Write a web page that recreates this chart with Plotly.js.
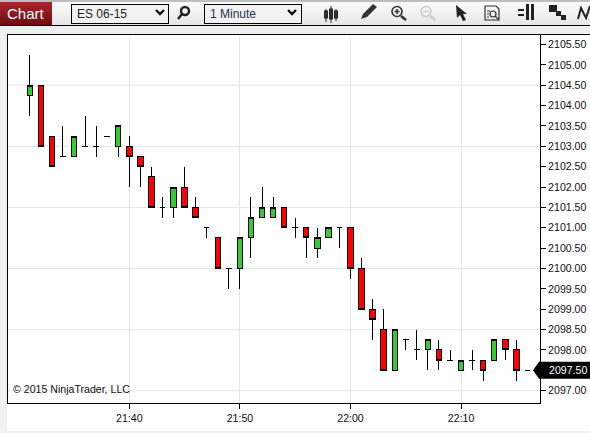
<!DOCTYPE html>
<html><head><meta charset="utf-8">
<script src="https://cdn.plot.ly/plotly-3.0.1.min.js"></script>
<style>
html,body{margin:0;padding:0;background:#f0f0f0;width:590px;height:433px;overflow:hidden;font-family:"Liberation Sans",Arial,sans-serif}
#top{position:absolute;left:0;top:0;width:590px;height:2px;background:#bdbdbd}
#bar{position:absolute;left:0;top:2px;width:590px;height:23px;background:linear-gradient(#fbfbfb,#e6e6e6);border-bottom:1px solid #000}
#tab{position:absolute;left:0;top:2px;width:52px;height:23px;background:linear-gradient(#a8262b,#6e0d12);color:#fff;font-size:15px;line-height:24px;padding-left:7px;box-sizing:border-box}
.sel{position:absolute;top:4px;height:20px;width:98px;box-sizing:border-box;border:1px solid #000;background:#f2f2f2;font-size:12px;line-height:19px;padding-left:5px;color:#222}
#panel{position:absolute;left:7px;top:34px;width:583px;height:397px;background:#fff;border-top:1px solid #000;box-sizing:border-box}
#chart{position:absolute;left:0;top:0;width:590px;height:433px}
svg.ic{position:absolute;left:0;top:0;width:590px;height:34px}
.boxes path{shape-rendering:crispEdges}
</style></head><body>
<div id="top"></div><div id="bar"></div><div id="tab">Chart</div>
<div class="sel" style="left:71px">ES 06-15</div>
<div class="sel" style="left:204px;color:#1f3350">1 Minute</div>
<div id="panel"></div>
<svg class="ic" viewBox="0 0 590 34">
<g fill="none" stroke="#111" stroke-width="2.4"><path d="M156 10l4 4 4-4M288 10l4 4 4-4"/></g>
<g fill="none" stroke="#222" stroke-width="2.4"><circle cx="185" cy="11" r="4"/><path d="M182 14l-4 5"/></g>
<g stroke="#222" stroke-width="1" fill="#333"><path d="M326 9v13M331 6v17M336 9v12"/><rect x="324.5" y="11" width="3" height="7"/><rect x="329.5" y="9" width="3" height="10"/><rect x="334.5" y="11" width="3" height="7"/></g>
<path d="M361 19l2 -5 10-10 4 3-10 10z" fill="#333"/>
<g fill="none" stroke="#333" stroke-width="1.6"><circle cx="397" cy="11.5" r="5"/><path d="M394.5 11.5h5M397 9v5"/><path d="M401 16l5 4" stroke-width="2.6"/></g>
<g fill="none" stroke="#ccc" stroke-width="1.6"><circle cx="426" cy="11.5" r="5"/><path d="M423.5 11.5h5"/><path d="M430 16l5 4" stroke-width="2.6"/></g>
<path d="M456 5l11 9h-4l3 6-3 1-3-6-3 3z" fill="#222"/>
<g fill="none" stroke="#333" stroke-width="1.2"><path d="M485 6h11l3 3v11h-14z"/><circle cx="493" cy="14" r="3"/><path d="M495 16l4 4M487 11h3M487 14h2M487 17h2"/></g>
<g fill="#222"><rect x="518" y="9" width="6" height="2"/><rect x="518" y="14" width="6" height="2"/><rect x="526" y="4" width="3" height="16"/><rect x="531" y="4" width="3" height="16"/></g>
<g fill="#222"><rect x="549" y="5" width="8" height="7"/><rect x="556" y="11" width="5" height="5"/><rect x="561" y="15" width="5" height="5"/></g>
<g fill="none" stroke="#222" stroke-width="2"><path d="M578 19l3-11 5 10 4-12"/></g>
</svg>
<div id="chart"></div>
<script>
var times=["21:31","21:32","21:33","21:34","21:35","21:36","21:37","21:38","21:39","21:40","21:41","21:42","21:43","21:44","21:45","21:46","21:47","21:48","21:49","21:50","21:51","21:52","21:53","21:54","21:55","21:56","21:57","21:58","21:59","22:00","22:01","22:02","22:03","22:04","22:05","22:06","22:07","22:08","22:09","22:10","22:11","22:12","22:13","22:14","22:15","22:16"];
var opens=[2104.25,2104.5,2103.25,2102.75,2102.75,2103,2103,2103.25,2103,2103,2102.75,2102.25,2101.5,2101.5,2102,2101.5,2101,2100.75,2100,2100,2100.75,2101.25,2101.25,2101.5,2101,2101,2100.5,2100.75,2101,2101,2100,2099,2098.5,2097.5,2098.25,2098,2098,2098,2097.75,2097.5,2097.75,2097.75,2097.75,2098.25,2098,2097.5];
var highs=[2105.25,2104.5,2103.25,2103.5,2103.25,2103.75,2103.5,2103.25,2103.5,2103.25,2102.75,2102.5,2101.75,2102,2102.5,2101.75,2101,2100.75,2100,2100.75,2101.75,2102,2101.75,2101.5,2101.25,2101,2101,2101,2101,2101,2100.25,2099.25,2099,2098.5,2098.25,2098.5,2098.25,2098.25,2098,2097.75,2098,2097.75,2098.25,2098.25,2098.25,2097.5];
var lows=[2103.75,2103,2102.5,2102.75,2102.75,2103,2102.75,2103.25,2102.75,2102,2102,2101.5,2101.25,2101.25,2101.5,2101.25,2100.75,2100,2099.5,2099.5,2100.25,2101.25,2101.25,2101,2100.75,2100.25,2100.25,2100.75,2100.5,2099.75,2099,2098.25,2097.5,2097.5,2098,2097.75,2097.5,2097.5,2097.75,2097.5,2097.5,2097.25,2097.75,2097.75,2097.25,2097.5];
var closes=[2104.5,2103,2102.5,2102.75,2103.25,2103,2103,2103.25,2103.5,2102.75,2102.5,2101.5,2101.5,2102,2101.5,2101.25,2101,2100,2100,2100.75,2101.25,2101.5,2101.5,2101,2101,2100.75,2100.75,2101,2101,2100,2099,2098.75,2097.5,2098.5,2098.25,2098,2098.25,2097.75,2097.75,2097.75,2097.75,2097.5,2098.25,2098,2097.5,2097.5];
var gridLevels=[2097,2098.5,2100,2101.5,2103,2104.5];
var xTicks=["21:40","21:50","22:00","22:10"];
var lastPrice=2097.5, lastLabel="2097.50", copyright="\u00a9 2015 NinjaTrader, LLC", dateStr="2015-05-11 ";
var font={family:'"Liberation Sans",Arial,sans-serif',size:10.6,color:'#111'};
var shapes=gridLevels.map(function(v){return {type:'line',layer:'below',xref:'paper',x0:0,x1:1,yref:'y',y0:v,y1:v,line:{color:'#e4e4e4',width:1}};});
shapes.push({type:'path',layer:'above',xref:'paper',xsizemode:'pixel',xanchor:1,yref:'y',ysizemode:'pixel',yanchor:lastPrice,
  path:'M -7 0 L -1 -8.5 L 50 -8.5 L 50 8.5 L -1 8.5 Z',fillcolor:'#000',line:{width:0}});
var trace={type:'candlestick',x:times.map(function(t){return dateStr+t;}),open:opens,high:highs,low:lows,close:closes,
  whiskerwidth:0,
  increasing:{line:{color:'#000',width:1},fillcolor:'#33cc33'},
  decreasing:{line:{color:'#000',width:1},fillcolor:'#ff0000'},hoverinfo:'skip'};
var layout={width:590,height:433,margin:{l:8,r:50,t:35,b:30},paper_bgcolor:'rgba(0,0,0,0)',plot_bgcolor:'#fff',
  font:font,showlegend:false,boxgap:0.3,
  xaxis:{type:'date',range:[dateStr+'21:29:02',dateStr+'22:17:08'],rangeslider:{visible:false},tickformat:'%H:%M',tickmode:'array',
    tickvals:xTicks.map(function(t){return dateStr+t;}),ticktext:xTicks,
    showgrid:true,gridcolor:'#e4e4e4',gridwidth:1,zeroline:false,ticks:'outside',ticklen:5,tickcolor:'#000',showline:true,linecolor:'#000',linewidth:1,mirror:true,tickfont:font},
  yaxis:{side:'right',range:[2096.698,2105.733],dtick:0.5,tick0:2097,tickformat:'.2f',showgrid:false,zeroline:false,ticks:'outside',ticklen:5,tickcolor:'#000',showline:true,linecolor:'#000',linewidth:1,mirror:true,tickfont:font},
  shapes:shapes,
  annotations:[
   {xref:'paper',x:1,xanchor:'left',xshift:7,yref:'y',y:lastPrice,yanchor:'middle',text:lastLabel,showarrow:false,font:{family:font.family,size:10.6,color:'#fff'}},
   {xref:'paper',x:0,xanchor:'left',xshift:3,yref:'paper',y:0,yanchor:'bottom',yshift:6,text:copyright,showarrow:false,font:{family:font.family,size:10.6,color:'#111'}}
  ]};
Plotly.newPlot('chart',[trace],layout,{staticPlot:true,displayModeBar:false});
</script></body></html>
